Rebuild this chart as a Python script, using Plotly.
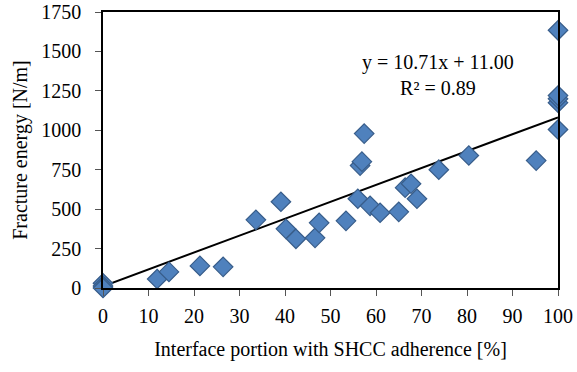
import plotly.graph_objects as go

portion = [0, 0, 0, 11.9, 14.5, 21.3, 26.4, 33.6, 39.1, 40.2, 42.4, 46.6, 47.5, 53.4,
           56.0, 56.5, 56.9, 57.4, 58.7, 60.9, 65.0, 66.4, 67.7, 69.0, 73.8, 80.4,
           95.2, 100, 100, 100, 100, 100]
energy = [30, 12, 0, 57, 102, 140, 134, 432, 547, 375, 312, 318, 413, 426,
          566, 776, 801, 979, 521, 477, 483, 636, 661, 566, 750, 840,
          808, 1005, 1175, 1200, 1220, 1634]
slope, intercept = 10.71, 11.00
fit_x = [0, 100]

fig = go.Figure()
fig.add_trace(go.Scatter(x=fit_x, y=[slope * v + intercept for v in fit_x], mode="lines",
                         line=dict(color="black", width=2), showlegend=False, hoverinfo="skip"))
fig.add_trace(go.Scatter(x=portion, y=energy, mode="markers",
                         marker=dict(symbol="diamond", size=15, color="#4F81BD",
                                     line=dict(color="#385D8A", width=1.2)),
                         showlegend=False, cliponaxis=False))

font = dict(family="Liberation Serif", size=20, color="black")
fig.update_layout(
    width=577, height=372, margin=dict(l=103, r=19, t=12, b=84, autoexpand=False),
    paper_bgcolor="white", plot_bgcolor="white", font=font,
    xaxis=dict(range=[0, 100], dtick=10, showline=True, linecolor="black", linewidth=1.5,
               mirror=True, ticks="outside", ticklen=6, tickcolor="#555", showgrid=False,
               zeroline=False, automargin=False, ticklabelstandoff=3,
               title=dict(text="Interface portion with SHCC adherence [%]", standoff=16, font=font),
               tickfont=font),
    yaxis=dict(range=[0, 1750], dtick=250, showline=True, linecolor="black", linewidth=1.5,
               mirror=True, ticks="outside", ticklen=6, tickcolor="#555", showgrid=False,
               zeroline=False, automargin=False, ticklabelstandoff=10,
               title=dict(text="Fracture energy [N/m]", standoff=8, font=font),
               tickfont=font),
    annotations=[dict(x=0.736, y=0.77, xref="paper", yref="paper", showarrow=False,
                      xanchor="center", yanchor="middle",
                      text="y = 10.71x + 11.00<br>R² = 0.89", font=font, align="center")],
)
fig.write_html("out.html")
